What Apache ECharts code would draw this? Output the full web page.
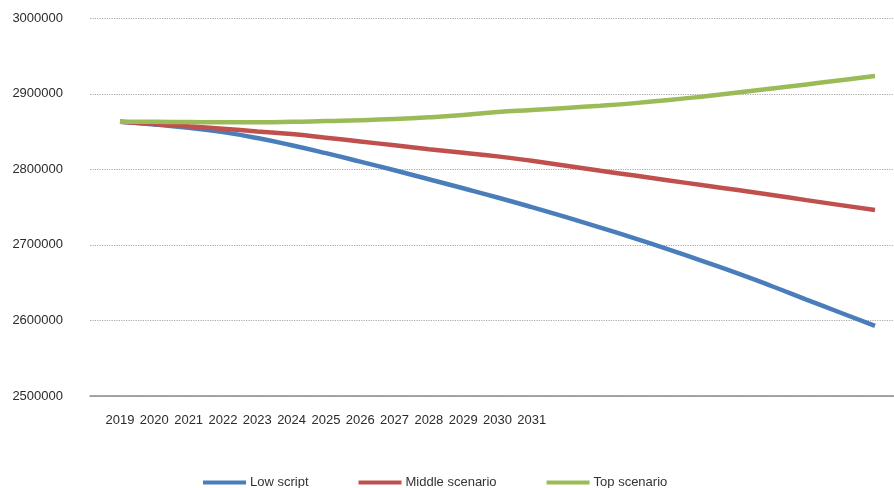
<!DOCTYPE html>
<html>
<head>
<meta charset="utf-8">
<script src="https://cdn.jsdelivr.net/npm/echarts@6/dist/echarts.min.js"></script>
<style>
  html, body { margin: 0; padding: 0; background: #fff; }
  #chart { width: 894px; height: 488px; }
</style>
</head>
<body>
<div id="chart"></div>
<script>
const years = ["2019", "2020", "2021", "2022", "2023", "2024", "2025", "2026", "2027", "2028",
  "2029", "2030", "2031", "2032", "2033", "2034", "2035", "2036", "2037", "2038", "2039",
  "2040", "2041"];
// only the first years carry a label on the axis
const lastLabelYear = "2031";

const lowScript = [2863000, 2859500, 2855000, 2849300, 2841500, 2832000, 2821500, 2810300,
  2798800, 2787000, 2775000, 2762800, 2750000, 2736700, 2723000, 2708700, 2693800, 2678300,
  2662300, 2645300, 2627600, 2610200, 2592800];
const middleScenario = [2863000, 2860000, 2857000, 2853900, 2850300, 2846800, 2842000, 2837000,
  2831800, 2826600, 2821900, 2817200, 2811300, 2804900, 2798100, 2791800, 2785400, 2778900,
  2772600, 2766200, 2759300, 2752700, 2746100];
const topScenario = [2863000, 2862900, 2862700, 2862400, 2862400, 2862900, 2864000, 2865000,
  2866600, 2868900, 2871900, 2875900, 2878600, 2881400, 2884300, 2887700, 2891800, 2896600,
  2901800, 2907100, 2912500, 2918000, 2923600];

const seriesNames = ["Low script", "Middle scenario", "Top scenario"];
const seriesColors = ["#4A7EBB", "#C0504D", "#9BBB59"];

const yMin = 2500000;
const yMax = 3000000;
const yStep = 100000;

const chart = echarts.init(document.getElementById("chart"));

const lineSeries = [lowScript, middleScenario, topScenario].map((vals, i) => ({
  name: seriesNames[i],
  type: "line",
  xAxisIndex: 0,
  yAxisIndex: 0,
  data: vals,
  smooth: true,
  showSymbol: false,
  lineStyle: { color: seriesColors[i], width: 4.5 },
  itemStyle: { color: seriesColors[i] },
  z: 3,
}));

chart.setOption({
  backgroundColor: "#fff",
  animation: false,
  textStyle: { fontFamily: "Arial, 'Liberation Sans', sans-serif" },
  grid: [
    // plot area of the lines
    { left: 120, right: 19, top: 18.3, bottom: 92 },
    // frame with the gridlines, y labels and base line
    { left: 90, right: 0, top: 18.3, bottom: 92 },
  ],
  legend: {
    data: seriesNames,
    left: 198,
    top: 471,
    icon: "rect",
    itemWidth: 43,
    itemHeight: 4,
    itemGap: 50,
    textStyle: { color: "#333", fontSize: 13, padding: [0, 0, 0, -1] },
  },
  xAxis: [
    {
      gridIndex: 0,
      type: "category",
      data: years,
      boundaryGap: false,
      axisLine: { show: false },
      axisTick: { show: false },
      splitLine: { show: false },
      axisLabel: {
        color: "#2b2b2b",
        fontSize: 13,
        margin: 18,
        interval: 0,
        formatter: (v) => (v <= lastLabelYear ? v : ""),
      },
    },
    {
      gridIndex: 1,
      type: "value",
      min: 0,
      max: 1,
      axisLine: { show: true, onZero: false, lineStyle: { color: "#8c8c8c", width: 1.5 } },
      axisTick: { show: false },
      axisLabel: { show: false },
      splitLine: { show: false },
    },
  ],
  yAxis: [
    {
      gridIndex: 0,
      type: "value",
      min: yMin,
      max: yMax,
      interval: yStep,
      axisLine: { show: false },
      axisTick: { show: false },
      axisLabel: { show: false },
      splitLine: { show: false },
    },
    {
      gridIndex: 1,
      type: "value",
      min: yMin,
      max: yMax,
      interval: yStep,
      axisLine: { show: false },
      axisTick: { show: false },
      axisLabel: {
        color: "#2b2b2b",
        fontSize: 13,
        margin: 27,
        formatter: (v) => String(v),
      },
      splitLine: { lineStyle: { color: "#a8a8a8", type: "dotted", width: 1.2 } },
    },
  ],
  series: lineSeries,
});
</script>
</body>
</html>
